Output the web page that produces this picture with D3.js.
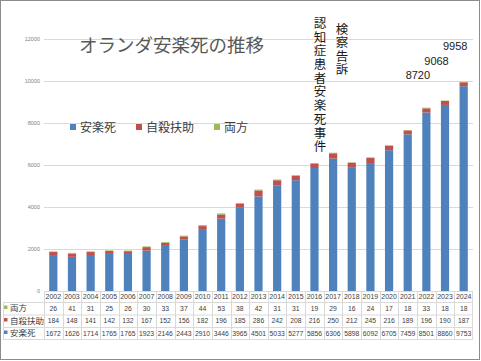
<!DOCTYPE html>
<html><head><meta charset="utf-8">
<script src="https://cdn.jsdelivr.net/npm/d3@7"></script>
<style>body{margin:0;background:#fff}svg{display:block}</style>
</head><body>
<script>
const years = ["2002","2003","2004","2005","2006","2007","2008","2009","2010","2011","2012","2013","2014","2015","2016","2017","2018","2019","2020","2021","2022","2023","2024"];
const euthanasia = [1672,1626,1714,1765,1765,1923,2146,2443,2910,3446,3965,4501,5033,5277,5856,6306,5898,6092,6705,7459,8501,8860,9753];
const assisted = [184,148,141,142,132,167,152,156,182,196,185,286,242,208,216,250,212,245,216,189,196,190,187];
const both = [26,41,31,25,26,30,33,37,44,53,38,42,31,31,19,29,16,24,17,18,33,18,18];
const seriesNames = ["安楽死","自殺扶助","両方"];
const seriesColors = ["#4F81BD","#C0504D","#9BBB59"];
const yTicks = [0,2000,4000,6000,8000,10000,12000];
const totalLabels = [{year:"2022",text:"8720"},{year:"2023",text:"9068"},{year:"2024",text:"9958"}];
const title = "オランダ安楽死の推移";
const note1 = "認知症患者安楽死事件";
const note2 = "検察告訴";

const W=481,H=361;
const svg=d3.select("body").append("svg").attr("width",W).attr("height",H);
svg.append("rect").attr("x",0.5).attr("y",0.5).attr("width",W-2).attr("height",H-2).attr("fill","#fff").attr("stroke","#8c8c8c");

const x=d3.scaleBand().domain(years).range([44,473]).paddingInner(0.56).paddingOuter(0.28);
const xCol=d3.scaleBand().domain(years).range([44,473]);
const y=d3.scaleLinear().domain([0,12000]).range([291,39]);

// grid
svg.append("g").selectAll("line").data(yTicks).join("line")
  .attr("x1",44).attr("x2",473).attr("y1",d=>Math.round(y(d))+0.5).attr("y2",d=>Math.round(y(d))+0.5)
  .attr("stroke","#d9d9d9");
svg.append("g").selectAll("text").data(yTicks).join("text")
  .attr("x",40).attr("y",d=>y(d)+2).attr("text-anchor","end")
  .attr("font-family","Liberation Sans, Arial").attr("font-size",5.5).attr("fill","#7f7f7f").text(d=>d);

// stacked bars
const rows=years.map((yr,i)=>({year:yr,"安楽死":euthanasia[i],"自殺扶助":assisted[i],"両方":both[i]}));
const stack=d3.stack().keys(seriesNames)(rows);
svg.append("g").selectAll("g").data(stack).join("g").attr("fill",(d,i)=>seriesColors[i])
  .selectAll("rect").data(d=>d).join("rect")
  .attr("x",d=>x(d.data.year)).attr("width",x.bandwidth())
  .attr("y",d=>y(d[1])).attr("height",d=>y(d[0])-y(d[1]));

// title
svg.append("text").attr("x",79).attr("y",52).attr("font-family","Noto Sans CJK JP").attr("font-size",18.5)
  .attr("fill","#595959").text(title);

// legend
const lx=[70,136,214];
seriesNames.forEach((n,i)=>{
  svg.append("rect").attr("x",lx[i]).attr("y",124).attr("width",6).attr("height",6).attr("fill",seriesColors[i]);
  svg.append("text").attr("x",lx[i]+10).attr("y",131.5).attr("font-family","Noto Sans CJK JP").attr("font-size",12)
    .attr("fill","#404040").text(n);
});

// vertical annotations
const vx1=xCol("2016")+xCol.bandwidth()/2+5.5;
svg.append("text").attr("x",vx1).attr("y",17).attr("writing-mode","vertical-rl")
  .attr("font-family","Noto Sans CJK JP").attr("font-size",12.5).attr("letter-spacing",1.2)
  .attr("fill","#1a1a1a").text(note1);
const vx2=xCol("2017")+xCol.bandwidth()/2+9;
svg.append("text").attr("x",vx2).attr("y",23).attr("writing-mode","vertical-rl")
  .attr("font-family","Noto Sans CJK JP").attr("font-size",12.5).attr("letter-spacing",0.9)
  .attr("fill","#1a1a1a").text(note2);

// total labels
svg.append("g").selectAll("text").data(totalLabels).join("text")
  .attr("x",d=>xCol(d.year)+xCol.bandwidth()/2-8.5)
  .attr("y",(d,i)=>[79,65,50][i])
  .attr("text-anchor","middle").attr("font-family","Liberation Sans, Arial").attr("font-size",11)
  .attr("fill","#1a1a1a").text(d=>d.text);

// data table
const tg=svg.append("g");
const lineC="#d9d9d9";
[302,314.5,327,339].forEach(v=>{
  tg.append("line").attr("x1",3).attr("x2",473).attr("y1",v+0.5).attr("y2",v+0.5).attr("stroke",lineC);
});
tg.append("line").attr("x1",3.5).attr("x2",3.5).attr("y1",302).attr("y2",339.5).attr("stroke",lineC);
years.forEach(yr=>{
  tg.append("line").attr("x1",Math.round(xCol(yr))+0.5).attr("x2",Math.round(xCol(yr))+0.5)
    .attr("y1",291).attr("y2",339.5).attr("stroke",lineC);
});
tg.append("line").attr("x1",472.5).attr("x2",472.5).attr("y1",291).attr("y2",339.5).attr("stroke",lineC);
const tf="Liberation Sans, Arial";
tg.selectAll("text.yr").data(years).join("text").attr("class","yr")
  .attr("x",d=>xCol(d)+xCol.bandwidth()/2).attr("y",298.5).attr("text-anchor","middle")
  .attr("font-family",tf).attr("font-size",7).attr("fill","#404040").text(d=>d);
const tableRows=[{name:seriesNames[2],vals:both,c:seriesColors[2],yy:310.5},
                 {name:seriesNames[1],vals:assisted,c:seriesColors[1],yy:323},
                 {name:seriesNames[0],vals:euthanasia,c:seriesColors[0],yy:335.5}];
tableRows.forEach(r=>{
  tg.append("rect").attr("x",4).attr("y",r.yy-5).attr("width",3.5).attr("height",3.5).attr("fill",r.c);
  tg.append("text").attr("x",10).attr("y",r.yy+0.5).attr("font-family","Noto Sans CJK JP").attr("font-size",8.5)
    .attr("fill","#404040").text(r.name);
  tg.selectAll(null).data(r.vals).join("text")
    .attr("x",(d,i)=>xCol(years[i])+xCol.bandwidth()/2).attr("y",r.yy).attr("text-anchor","middle")
    .attr("font-family",tf).attr("font-size",6.8).attr("fill","#404040").text(d=>d);
});
</script>
</body></html>
